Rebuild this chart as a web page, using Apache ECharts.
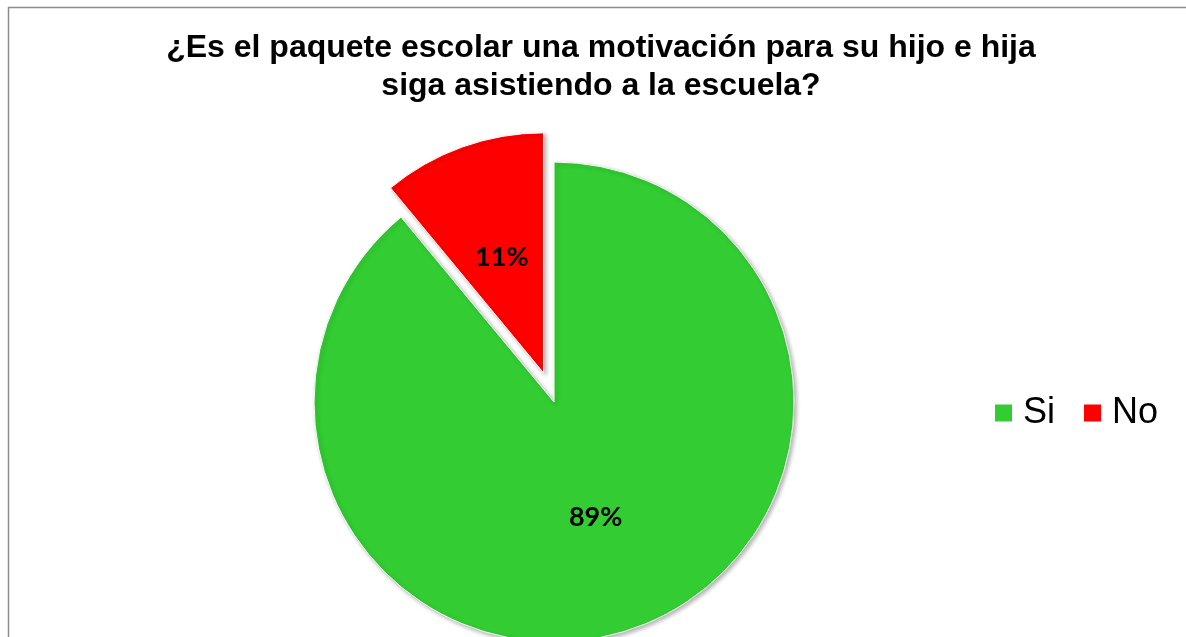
<!DOCTYPE html>
<html>
<head>
<meta charset="utf-8">
<title>Paquete escolar</title>
<script src="https://cdn.jsdelivr.net/npm/echarts@6/dist/echarts.min.js"></script>
<style>
  html, body { margin: 0; padding: 0; background: #fff; }
  #chart { width: 1186px; height: 637px; }
</style>
</head>
<body>
<div id="chart"></div>
<script>
// datos del gráfico
const categories = ["Si", "No"];
const values = [89, 11];
const colors = ["#33CC33", "#FF0000"];

const chart = echarts.init(document.getElementById("chart"));

const option = {
  backgroundColor: "#fff",
  animation: false,
  title: {
    text: "¿Es el paquete escolar una motivación para su hijo e hija\nsiga asistiendo a la escuela?",
    left: 601,
    top: 29,
    padding: 0,
    textAlign: "center",
    textStyle: {
      fontFamily: "Liberation Sans, Arial",
      fontSize: 32,
      fontWeight: "bold",
      color: "#000",
      lineHeight: 38,
    },
  },
  legend: {
    data: categories,
    left: 993,
    top: 395,
    padding: 0,
    icon: "rect",
    itemWidth: 19,
    itemHeight: 19,
    itemGap: 27,
    selectedMode: false,
    textStyle: {
      fontFamily: "Liberation Sans, Arial",
      fontSize: 36,
      color: "#000",
      padding: [0, 0, 0, 5],
    },
  },
  graphic: [
    {
      type: "rect",
      z: -10,
      shape: { x: 8.5, y: 7.5, width: 1300, height: 700 },
      style: { fill: "none", stroke: "#8c8c8c", lineWidth: 1.5 },
    },
  ],
  series: [
    {
      type: "pie",
      center: [554, 402],
      radius: 240,
      startAngle: 90,
      clockwise: true,
      selectedMode: "single",
      selectedOffset: 31,
      label: {
        show: true,
        position: "inner",
        formatter: (p) => p.value + "%",
        fontFamily: "Lato, Noto Sans",
        fontWeight: "bold",
        fontSize: 27,
        color: "#000",
      },
      labelLine: { show: false },
      emphasis: { disabled: true },
      itemStyle: {
        borderColor: "#fff",
        borderWidth: 1,
      },
      data: categories.map((name, i) => ({
        name: name,
        value: values[i],
        selected: i === 1,
        itemStyle: {
          color: colors[i],
          shadowColor: "rgba(0,0,0,0.3)",
          shadowBlur: 4,
          shadowOffsetX: 2,
          shadowOffsetY: 2,
        },
      })),
    },
  ],
};

chart.setOption(option);
</script>
</body>
</html>
